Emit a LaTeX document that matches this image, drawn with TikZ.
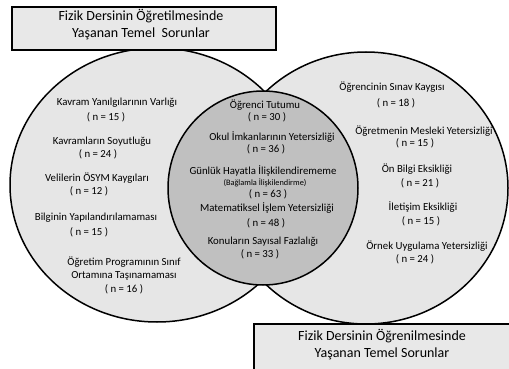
\documentclass[tikz,border=0pt]{standalone}
\usepackage{fontspec}
\setmainfont{Carlito}
\usepackage{tikz}

\definecolor{setfill}{RGB}{230,230,230}
\definecolor{corefill}{RGB}{192,192,192}
\definecolor{boxfill}{RGB}{232,232,232}

\tikzset{
  item/.style={inner sep=0.75pt, align=center, font=\fontsize{10.8}{13.5}\selectfont},
  small item/.style={inner sep=0.75pt, align=center, font=\fontsize{8.3}{10}\selectfont},
  title/.style={inner sep=0.75pt, align=center, font=\fontsize{14}{17}\selectfont},
  set outline/.style={draw=black, line width=1.5pt, fill=setfill},
  title box/.style={draw=black, line width=1.8pt, fill=boxfill}
}

\begin{document}
\begin{tikzpicture}[x=1pt,y=1pt,yscale=-1,xscale=1]
\useasboundingbox (0,0) rectangle (509,369);

%Shape: Ellipse [left set]
\draw [set outline] (157,185) ellipse [x radius=147, y radius=137];
%Shape: Ellipse [right set]
\draw [set outline] (366,188) ellipse [x radius=142, y radius=136];
%Shape: Circle [common part]
\draw [draw=black, line width=1.5pt, fill=corefill] (263,188) ellipse [x radius=95, y radius=97];

%Shape: Rectangle [top title]
\draw [title box] (12,7) rectangle (276,50);
%Shape: Rectangle [bottom title]
\begin{scope}
\clip (0,0) rectangle (509,369);
\draw [title box] (254,324) rectangle (514,374);
\end{scope}

% Text Node
\node (ttlTeach) [title] at (141,25) {Fizik Dersinin Öğretilmesinde\\Yaşanan Temel\ \ Sorunlar};
% Text Node
\node (ttlLearn) [title] at (382,345) {Fizik Dersinin Öğrenilmesinde\\Yaşanan Temel Sorunlar};

% Text Node
\node (kavYan) [item] at (117,103) {Kavram Yanılgılarının Varlığı};
\node (kavYanN) [item] at (106,117) {( n = 15 )};
% Text Node
\node (kavSoy) [item] at (102,142) {Kavramların Soyutluğu};
\node (kavSoyN) [item] at (98,154) {( n = 24 )};
% Text Node
\node (veliOsym) [item] at (97,178) {Velilerin ÖSYM Kaygıları};
\node (veliOsymN) [item] at (89,191) {( n = 12 )};
% Text Node
\node (bilgiYap) [item] at (96,218) {Bilginin Yapılandırılamaması};
\node (bilgiYapN) [item] at (89,232) {( n = 15 )};
% Text Node
\node (progTas) [item] at (124,275) {Öğretim Programının Sınıf\\Ortamına Taşınamaması\\( n = 16 )};

% Text Node
\node (ogrTut) [item] at (265,105) {Öğrenci Tutumu};
\node (ogrTutN) [item] at (267,117) {( n = 30 )};
% Text Node
\node (okulImk) [item] at (272,137) {Okul İmkanlarının Yetersizliği};
\node (okulImkN) [item] at (266,149) {( n = 36 )};
% Text Node
\node (gunHay) [item] at (263,171) {Günlük Hayatla İlişkilendirememe};
\node (gunHayB) [small item] at (265,183) {(Bağlamla İlişkilendirme)};
\node (gunHayN) [item] at (268,194) {( n = 63 )};
% Text Node
\node (matIs) [item] at (267,208) {Matematiksel İşlem Yetersizliği};
\node (matIsN) [item] at (266,223) {( n = 48 )};
% Text Node
\node (konSay) [item] at (263,242) {Konuların Sayısal Fazlalığı};
\node (konSayN) [item] at (260,254) {( n = 33 )};

% Text Node
\node (sinKay) [item] at (392,87) {Öğrencinin Sınav Kaygısı};
\node (sinKayN) [item] at (396,103) {( n = 18 )};
% Text Node
\node (ogrMes) [item] at (424,131) {Öğretmenin Mesleki Yetersizliği};
\node (ogrMesN) [item] at (415,143) {( n = 15 )};
% Text Node
\node (onBil) [item] at (417,169) {Ön Bilgi Eksikliği};
\node (onBilN) [item] at (420,183) {( n = 21 )};
% Text Node
\node (iletEks) [item] at (423,207) {İletişim Eksikliği};
\node (iletEksN) [item] at (421,221) {( n = 15 )};
% Text Node
\node (ornUyg) [item] at (427,246) {Örnek Uygulama Yetersizliği};
\node (ornUygN) [item] at (415,259) {( n = 24 )};

\end{tikzpicture}
\end{document}
